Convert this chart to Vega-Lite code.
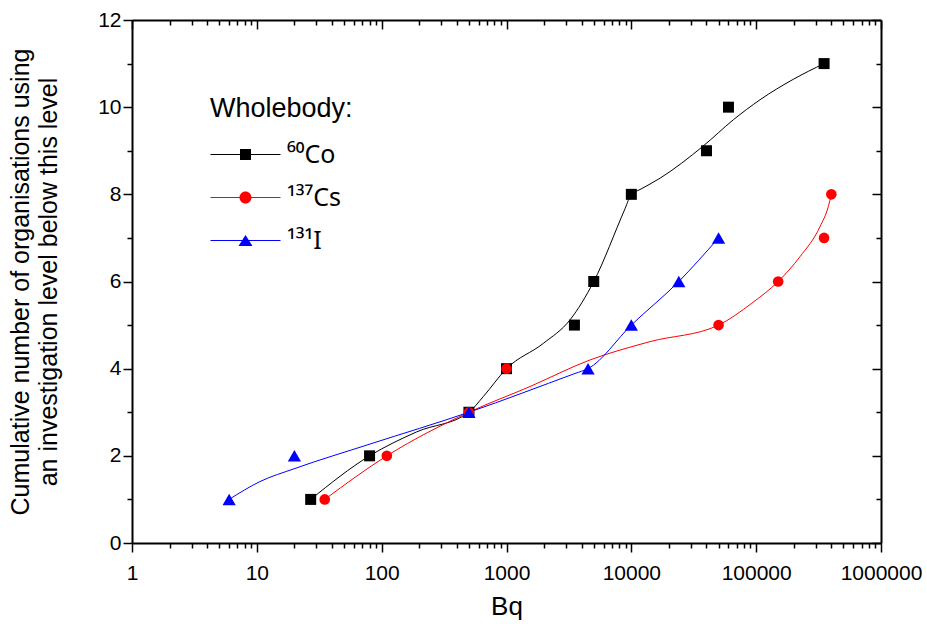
{
  "$schema": "https://vega.github.io/schema/vega-lite/v6.json",
  "width": 749,
  "height": 523,
  "autosize": {"type": "none"},
  "padding": {"left": 132, "top": 20, "right": 46, "bottom": 81},
  "config": {
    "font": "Liberation Sans",
    "view": {"stroke": null},
    "axis": {
      "grid": false,
      "domainColor": "black",
      "domainWidth": 2,
      "tickColor": "black",
      "tickWidth": 1.5,
      "labelColor": "black",
      "titleColor": "black",
      "labelFont": "Liberation Sans",
      "titleFont": "Liberation Sans",
      "titleFontWeight": "normal"
    }
  },
  "datasets": {
    "markers": [
      {"nuclide": "⁶⁰Co", "bq": 27, "n": 1},
      {"nuclide": "⁶⁰Co", "bq": 80, "n": 2},
      {"nuclide": "⁶⁰Co", "bq": 500, "n": 3},
      {"nuclide": "⁶⁰Co", "bq": 1000, "n": 4},
      {"nuclide": "⁶⁰Co", "bq": 3500, "n": 5},
      {"nuclide": "⁶⁰Co", "bq": 5000, "n": 6},
      {"nuclide": "⁶⁰Co", "bq": 10000, "n": 8},
      {"nuclide": "⁶⁰Co", "bq": 40000, "n": 9},
      {"nuclide": "⁶⁰Co", "bq": 60000, "n": 10},
      {"nuclide": "⁶⁰Co", "bq": 350000, "n": 11},
      {"nuclide": "¹³⁷Cs", "bq": 35, "n": 1},
      {"nuclide": "¹³⁷Cs", "bq": 110, "n": 2},
      {"nuclide": "¹³⁷Cs", "bq": 500, "n": 3},
      {"nuclide": "¹³⁷Cs", "bq": 1000, "n": 4},
      {"nuclide": "¹³⁷Cs", "bq": 50000, "n": 5},
      {"nuclide": "¹³⁷Cs", "bq": 150000, "n": 6},
      {"nuclide": "¹³⁷Cs", "bq": 350000, "n": 7},
      {"nuclide": "¹³⁷Cs", "bq": 400000, "n": 8},
      {"nuclide": "¹³¹I", "bq": 6, "n": 1},
      {"nuclide": "¹³¹I", "bq": 20, "n": 2},
      {"nuclide": "¹³¹I", "bq": 500, "n": 3},
      {"nuclide": "¹³¹I", "bq": 4500, "n": 4},
      {"nuclide": "¹³¹I", "bq": 10000, "n": 5},
      {"nuclide": "¹³¹I", "bq": 24000, "n": 6},
      {"nuclide": "¹³¹I", "bq": 50000, "n": 7}
    ],
    "curves": [
      {"nuclide": "⁶⁰Co", "bq": 27, "n": 1},
      {"nuclide": "⁶⁰Co", "bq": 80, "n": 2},
      {"nuclide": "⁶⁰Co", "bq": 191, "n": 2.55},
      {"nuclide": "⁶⁰Co", "bq": 500, "n": 3},
      {"nuclide": "⁶⁰Co", "bq": 652, "n": 3.36},
      {"nuclide": "⁶⁰Co", "bq": 1000, "n": 4},
      {"nuclide": "⁶⁰Co", "bq": 1972, "n": 4.58},
      {"nuclide": "⁶⁰Co", "bq": 3228, "n": 5.12},
      {"nuclide": "⁶⁰Co", "bq": 5000, "n": 6},
      {"nuclide": "⁶⁰Co", "bq": 8901, "n": 7.67},
      {"nuclide": "⁶⁰Co", "bq": 10000, "n": 8},
      {"nuclide": "⁶⁰Co", "bq": 11740, "n": 8.11},
      {"nuclide": "⁶⁰Co", "bq": 16970, "n": 8.37},
      {"nuclide": "⁶⁰Co", "bq": 37720, "n": 9.11},
      {"nuclide": "⁶⁰Co", "bq": 65600, "n": 9.71},
      {"nuclide": "⁶⁰Co", "bq": 107400, "n": 10.17},
      {"nuclide": "⁶⁰Co", "bq": 198500, "n": 10.64},
      {"nuclide": "⁶⁰Co", "bq": 350000, "n": 11},
      {"nuclide": "¹³⁷Cs", "bq": 35, "n": 1},
      {"nuclide": "¹³⁷Cs", "bq": 110, "n": 2},
      {"nuclide": "¹³⁷Cs", "bq": 500, "n": 3},
      {"nuclide": "¹³⁷Cs", "bq": 1543, "n": 3.59},
      {"nuclide": "¹³⁷Cs", "bq": 4667, "n": 4.2},
      {"nuclide": "¹³⁷Cs", "bq": 14110, "n": 4.62},
      {"nuclide": "¹³⁷Cs", "bq": 50000, "n": 5},
      {"nuclide": "¹³⁷Cs", "bq": 92100, "n": 5.5},
      {"nuclide": "¹³⁷Cs", "bq": 150000, "n": 6},
      {"nuclide": "¹³⁷Cs", "bq": 224500, "n": 6.57},
      {"nuclide": "¹³⁷Cs", "bq": 324800, "n": 7.26},
      {"nuclide": "¹³⁷Cs", "bq": 378400, "n": 7.72},
      {"nuclide": "¹³⁷Cs", "bq": 400000, "n": 8},
      {"nuclide": "¹³¹I", "bq": 6, "n": 1},
      {"nuclide": "¹³¹I", "bq": 10.6, "n": 1.41},
      {"nuclide": "¹³¹I", "bq": 20.2, "n": 1.71},
      {"nuclide": "¹³¹I", "bq": 80.6, "n": 2.27},
      {"nuclide": "¹³¹I", "bq": 500, "n": 3},
      {"nuclide": "¹³¹I", "bq": 3540, "n": 3.89},
      {"nuclide": "¹³¹I", "bq": 4500, "n": 4},
      {"nuclide": "¹³¹I", "bq": 10000, "n": 5},
      {"nuclide": "¹³¹I", "bq": 24000, "n": 6},
      {"nuclide": "¹³¹I", "bq": 50000, "n": 7}
    ]
  },
  "layer": [
    {
      "data": {"name": "curves"},
      "mark": {"type": "line", "interpolate": "monotone", "strokeWidth": 1},
      "encoding": {
        "x": {
          "field": "bq",
          "type": "quantitative",
          "scale": {"type": "log", "domain": [1, 1000000], "nice": false},
          "axis": {
            "orient": "bottom",
            "values": [1,2,3,4,5,6,7,8,9,10,20,30,40,50,60,70,80,90,100,200,300,400,500,600,700,800,900,1000,2000,3000,4000,5000,6000,7000,8000,9000,10000,20000,30000,40000,50000,60000,70000,80000,90000,100000,200000,300000,400000,500000,600000,700000,800000,900000,1000000],
            "labelExpr": "indexof([1,10,100,1000,10000,100000,1000000], datum.value) >= 0 ? format(datum.value, 'd') : ''",
            "labelFontSize": 21,
            "labelPadding": 10,
            "labelFlush": false,
            "labelOverlap": false,
            "labelBound": false,
            "tickSize": {"condition": {"test": "indexof([1,10,100,1000,10000,100000,1000000], datum.value) < 0", "value": 5}, "value": 9},
            "title": "Bq",
            "titleFontSize": 26,
            "titlePadding": 10
          }
        },
        "y": {
          "field": "n",
          "type": "quantitative",
          "scale": {"domain": [0, 12], "nice": false},
          "axis": {
            "orient": "left",
            "values": [0,1,2,3,4,5,6,7,8,9,10,11,12],
            "labelExpr": "datum.value % 2 === 0 ? datum.label : ''",
            "labelFontSize": 21,
            "labelPadding": 2,
            "labelOverlap": false,
            "labelFlush": false,
            "tickSize": {"condition": {"test": "datum.value % 2 !== 0", "value": 5}, "value": 9},
            "title": ["Cumulative number of organisations using", "an investigation level below this level"],
            "titleFontSize": 25,
            "titleLineHeight": 28,
            "titlePadding": 36
          }
        },
        "color": {
          "field": "nuclide",
          "type": "nominal",
          "scale": {"domain": ["⁶⁰Co", "¹³⁷Cs", "¹³¹I"], "range": ["#000000", "#ff0000", "#0000ff"]},
          "legend": {
            "orient": "none",
            "legendX": 78,
            "legendY": 76,
            "padding": 0,
            "title": "Wholebody:",
            "titleFont": "Liberation Sans",
            "titleFontSize": 27,
            "titleFontWeight": "normal",
            "titleColor": "black",
            "titlePadding": 19,
            "labelFont": "Noto Sans",
            "labelFontSize": 25,
            "labelColor": "black",
            "labelOffset": 29,
            "symbolOffset": 23,
            "symbolSize": 400,
            "symbolStrokeWidth": 0,
            "rowPadding": 17,
            "encode": {
              "symbols": {
                "update": {
                  "shape": {"signal": "datum.index === 0 ? 'M-3.5,-0.05H3.5V0.05H-3.5Z M-0.55,-0.55H0.55V0.55H-0.55Z' : datum.index === 1 ? 'M-3.5,-0.05H3.5V0.05H-3.5Z M0.6,0A0.6,0.6,0,1,1,-0.6,0A0.6,0.6,0,1,1,0.6,0Z' : 'M-3.5,-0.05H3.5V0.05H-3.5Z M0,-0.55L0.7,0.55H-0.7Z'"},
                  "fill": {"signal": "datum.index === 0 ? '#000000' : datum.index === 1 ? '#ff0000' : '#0000ff'"},
                  "strokeWidth": {"value": 0}
                }
              }
            }
          }
        }
      }
    },
    {
      "data": {"name": "markers"},
      "transform": [{"filter": {"field": "nuclide", "equal": "⁶⁰Co"}}],
      "mark": {"type": "point", "shape": "square", "size": 121, "filled": true, "opacity": 1, "strokeWidth": 0},
      "encoding": {
        "x": {
          "field": "bq",
          "type": "quantitative",
          "scale": {"type": "log", "domain": [1, 1000000], "nice": false},
          "axis": {
            "orient": "top",
            "values": [1,2,3,4,5,6,7,8,9,10,20,30,40,50,60,70,80,90,100,200,300,400,500,600,700,800,900,1000,2000,3000,4000,5000,6000,7000,8000,9000,10000,20000,30000,40000,50000,60000,70000,80000,90000,100000,200000,300000,400000,500000,600000,700000,800000,900000,1000000],
            "labels": false,
            "tickSize": {"condition": {"test": "indexof([1,10,100,1000,10000,100000,1000000], datum.value) < 0", "value": -5}, "value": -9},
            "title": null
          }
        },
        "y": {
          "field": "n",
          "type": "quantitative",
          "scale": {"domain": [0, 12], "nice": false},
          "axis": {
            "orient": "right",
            "values": [0,1,2,3,4,5,6,7,8,9,10,11,12],
            "labels": false,
            "tickSize": {"condition": {"test": "datum.value % 2 !== 0", "value": -5}, "value": -9},
            "title": null
          }
        },
        "color": {"field": "nuclide", "type": "nominal"}
      }
    },
    {
      "data": {"name": "markers"},
      "transform": [{"filter": {"field": "nuclide", "equal": "¹³⁷Cs"}}],
      "mark": {"type": "point", "shape": "circle", "size": 113, "filled": true, "opacity": 1, "strokeWidth": 0},
      "encoding": {
        "x": {"field": "bq", "type": "quantitative", "axis": null},
        "y": {"field": "n", "type": "quantitative", "axis": null},
        "color": {"field": "nuclide", "type": "nominal"}
      }
    },
    {
      "data": {"name": "markers"},
      "transform": [{"filter": {"field": "nuclide", "equal": "¹³¹I"}}],
      "mark": {"type": "point", "shape": "triangle-up", "size": 175, "filled": true, "opacity": 1, "strokeWidth": 0},
      "encoding": {
        "x": {"field": "bq", "type": "quantitative", "axis": null},
        "y": {"field": "n", "type": "quantitative", "axis": null},
        "color": {"field": "nuclide", "type": "nominal"}
      }
    }
  ],
  "resolve": {"axis": {"x": "independent", "y": "independent"}}
}
